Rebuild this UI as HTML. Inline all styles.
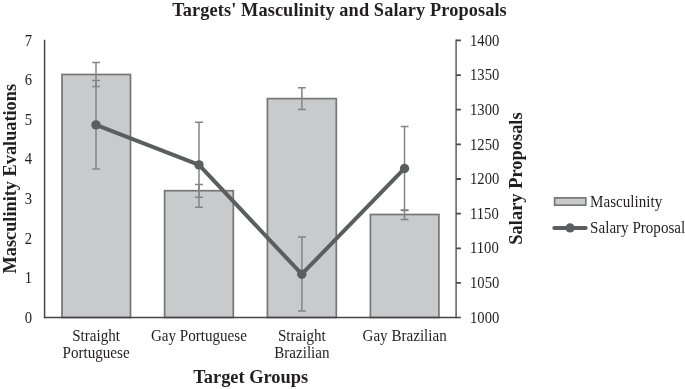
<!DOCTYPE html>
<html><head><meta charset="utf-8">
<style>
html,body{margin:0;padding:0;background:#fff;}
body{width:685px;height:389px;overflow:hidden;position:relative;}
svg{position:absolute;left:0;top:0;will-change:transform;}
text{font-family:"Liberation Serif",serif;fill:#231f20;}
.b{font-weight:bold;}
</style></head><body>
<svg width="685" height="389" viewBox="0 0 685 389">
<!-- title -->
<text class="b" x="339.5" y="15.6" font-size="18.3" letter-spacing="0.11" text-anchor="middle">Targets' Masculinity and Salary Proposals</text>

<!-- bars -->
<g fill="#c9cacc" stroke="#767676" stroke-width="1.7">
<rect x="62.0" y="74.5" width="68.5" height="243"/>
<rect x="164.6" y="190.7" width="68.7" height="126.8"/>
<rect x="267.4" y="98.6" width="68.9" height="218.9"/>
<rect x="370.4" y="214.5" width="68.5" height="103"/>
</g>

<!-- axes -->
<g stroke-width="1.5" fill="none">
<line stroke="#48454a" x1="44.6" y1="39.8" x2="44.6" y2="318.3"/>
<line stroke="#5f5c5f" x1="456.1" y1="39.6" x2="456.1" y2="318.3"/>
<path stroke="#4a474a" stroke-width="1.8" d="M456.1 40.40H460.9M456.1 75.05H460.9M456.1 109.70H460.9M456.1 144.35H460.9M456.1 179.00H460.9M456.1 213.65H460.9M456.1 248.30H460.9M456.1 282.95H460.9"/>
<line stroke="#48454a" x1="43.85" y1="317.5" x2="460.9" y2="317.5"/>
</g>

<!-- masculinity error bars -->
<g stroke="#848486" stroke-width="1.5" fill="none">
<path d="M96 62.4V86.5M92.2 62.4H99.9M92.2 86.5H99.9"/>
<path d="M199 184.5V197.3M195 184.5H203M195 197.3H203"/>
<path d="M301.9 87.7V109.4M298 87.7H305.8M298 109.4H305.8"/>
<path d="M404.5 209.9V219.5M400.7 209.9H408.5M400.7 219.5H408.5"/>
</g>
<!-- salary error bars -->
<g stroke="#848486" stroke-width="1.5" fill="none">
<path d="M96 80.4V169M92.2 80.4H99.9M92.2 169H99.9"/>
<path d="M199 122.3V207.2M195 122.3H203M195 207.2H203"/>
<path d="M301.9 237V310.9M298 237H305.8M298 310.9H305.8"/>
<path d="M404.5 126.6V210.4M400.7 126.6H408.5M400.7 210.4H408.5"/>
</g>

<!-- salary line -->
<polyline points="96,124.9 199,164.9 301.8,274.2 404.55,168.45" fill="none" stroke="#5c5d5f" stroke-width="4.0" stroke-linejoin="round"/>
<g fill="#5c5d5f">
<circle cx="96" cy="124.9" r="4.7"/>
<circle cx="199" cy="164.9" r="4.7"/>
<circle cx="301.8" cy="274.2" r="4.7"/>
<circle cx="404.55" cy="168.45" r="4.7"/>
</g>

<!-- left axis labels -->
<g font-size="15.1" text-anchor="end">
<text transform="translate(32.1,45.60) scale(0.97,1.08)">7</text>
<text transform="translate(32.1,85.19) scale(0.97,1.08)">6</text>
<text transform="translate(32.1,124.77) scale(0.97,1.08)">5</text>
<text transform="translate(32.1,164.36) scale(0.97,1.08)">4</text>
<text transform="translate(32.1,203.94) scale(0.97,1.08)">3</text>
<text transform="translate(32.1,243.53) scale(0.97,1.08)">2</text>
<text transform="translate(32.1,283.11) scale(0.97,1.08)">1</text>
<text transform="translate(32.1,322.70) scale(0.97,1.08)">0</text>
</g>
<!-- right axis labels -->
<g font-size="15.1" text-anchor="start">
<text transform="translate(470.0,45.60) scale(0.97,1.08)">1400</text>
<text transform="translate(470.0,80.24) scale(0.97,1.08)">1350</text>
<text transform="translate(470.0,114.88) scale(0.97,1.08)">1300</text>
<text transform="translate(470.0,149.51) scale(0.97,1.08)">1250</text>
<text transform="translate(470.0,184.15) scale(0.97,1.08)">1200</text>
<text transform="translate(470.0,218.79) scale(0.97,1.08)">1150</text>
<text transform="translate(470.0,253.43) scale(0.97,1.08)">1100</text>
<text transform="translate(470.0,288.06) scale(0.97,1.08)">1050</text>
<text transform="translate(470.0,322.70) scale(0.97,1.08)">1000</text>
</g>

<!-- category labels -->
<g font-size="15.1" text-anchor="middle">
<text transform="translate(96.1,340.6) scale(1,1.06)">Straight</text>
<text transform="translate(96.1,357.55) scale(1,1.06)">Portuguese</text>
<text transform="translate(198.9,340.6) scale(1,1.06)">Gay Portuguese</text>
<text transform="translate(301.85,340.6) scale(1,1.06)">Straight</text>
<text transform="translate(301.85,357.55) scale(1,1.06)">Brazilian</text>
<text transform="translate(404.6,340.6) scale(1,1.06)">Gay Brazilian</text>
</g>

<!-- axis titles -->
<text class="b" x="250.7" y="383" font-size="18.4" text-anchor="middle">Target Groups</text>
<text class="b" font-size="18.3" text-anchor="middle" transform="translate(16,178.7) rotate(-90)">Masculinity Evaluations</text>
<text class="b" font-size="18.45" text-anchor="middle" transform="translate(522,178.5) rotate(-90)">Salary Proposals</text>

<!-- legend -->
<rect x="554.6" y="197.9" width="31.2" height="7.3" fill="#c9cacc" stroke="#767676" stroke-width="1.7"/>
<text transform="translate(590.1,206.6) scale(1,1.05)" font-size="15.1">Masculinity</text>
<line x1="554.3" y1="227.9" x2="585.7" y2="227.9" stroke="#5c5d5f" stroke-width="4.0" stroke-linecap="round"/>
<circle cx="570.1" cy="227.9" r="4.6" fill="#5c5d5f"/>
<text transform="translate(590.1,233.15) scale(1,1.05)" font-size="15.1">Salary Proposal</text>
</svg>
</body></html>
